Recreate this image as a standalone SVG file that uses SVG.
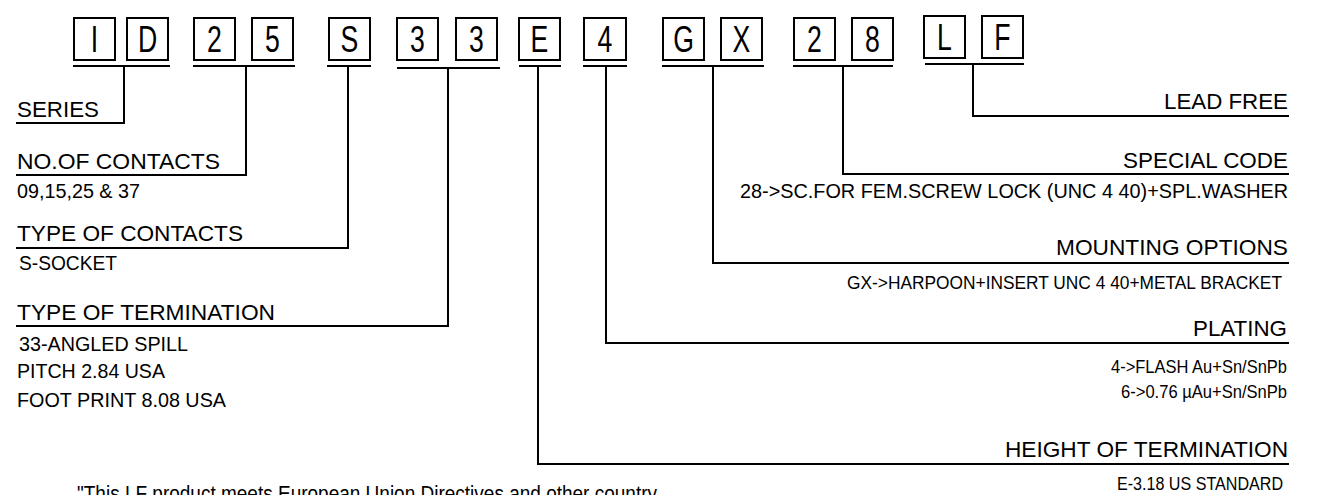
<svg xmlns="http://www.w3.org/2000/svg" width="1319" height="495" viewBox="0 0 1319 495">
<style>
  .box rect { fill: #fff; stroke: #000; stroke-width: 2; }
  .box text { font-family: "Liberation Sans", Arial, sans-serif; font-size: 37px; fill: #000; text-anchor: middle; }
  .lbl { font-family: "Liberation Sans", Arial, sans-serif; font-size: 22px; fill: #000; }
  .sub { font-family: "Liberation Sans", Arial, sans-serif; font-size: 19.5px; fill: #000; }
  .subs { font-family: "Liberation Sans", Arial, sans-serif; font-size: 18px; fill: #000; }
  #connectors path { fill: none; stroke: #000; stroke-width: 2; }
</style>
<rect width="1319" height="495" fill="#fff"/>

<g id="box-I" class="box"><rect x="74" y="18" width="41" height="42"/><text transform="translate(94.5 52) scale(0.72 1)">I</text></g>
<g id="box-D" class="box"><rect x="127" y="18" width="41" height="42"/><text transform="translate(147.5 52) scale(0.72 1)">D</text></g>
<g id="box-2a" class="box"><rect x="194" y="18" width="41" height="42"/><text transform="translate(214.5 52) scale(0.72 1)">2</text></g>
<g id="box-5" class="box"><rect x="252" y="18" width="41" height="42"/><text transform="translate(272.5 52) scale(0.72 1)">5</text></g>
<g id="box-S" class="box"><rect x="329" y="18" width="41" height="42"/><text transform="translate(349.5 52) scale(0.72 1)">S</text></g>
<g id="box-3a" class="box"><rect x="397" y="18" width="41" height="42"/><text transform="translate(417.5 52) scale(0.72 1)">3</text></g>
<g id="box-3b" class="box"><rect x="456" y="18" width="41" height="42"/><text transform="translate(476.5 52) scale(0.72 1)">3</text></g>
<g id="box-E" class="box"><rect x="519" y="18" width="41" height="42"/><text transform="translate(539.5 52) scale(0.72 1)">E</text></g>
<g id="box-4" class="box"><rect x="584" y="18" width="42" height="42"/><text transform="translate(605 52) scale(0.72 1)">4</text></g>
<g id="box-G" class="box"><rect x="663" y="18" width="41" height="42"/><text transform="translate(683.5 52) scale(0.72 1)">G</text></g>
<g id="box-X" class="box"><rect x="721" y="18" width="41" height="42"/><text transform="translate(741.5 52) scale(0.72 1)">X</text></g>
<g id="box-2b" class="box"><rect x="794" y="18" width="41" height="42"/><text transform="translate(814.5 52) scale(0.72 1)">2</text></g>
<g id="box-8" class="box"><rect x="852" y="18" width="41" height="42"/><text transform="translate(872.5 52) scale(0.72 1)">8</text></g>
<g id="box-L" class="box"><rect x="924" y="16" width="41" height="42"/><text transform="translate(944.5 50) scale(0.72 1)">L</text></g>
<g id="box-F" class="box"><rect x="982" y="16" width="41" height="42"/><text transform="translate(1002.5 50) scale(0.72 1)">F</text></g>

<g id="connectors">
  <path d="M73 66H170 M124 66V123H16"/>
  <path d="M193 66H295 M246 66V175H16"/>
  <path d="M327 66H371 M348 66V248H16"/>
  <path d="M397 68H500 M448 68V326H16"/>
  <path d="M519 66H561 M538 66V464H1289"/>
  <path d="M583 66H627 M606 66V343H1289"/>
  <path d="M662 66H764 M713 66V263H1289"/>
  <path d="M793 66H893 M843 66V174H1289"/>
  <path d="M925 64H1024 M973 64V116H1289"/>
</g>

<g id="label-series"><text class="lbl" x="17" y="117" textLength="82" lengthAdjust="spacingAndGlyphs">SERIES</text></g>
<g id="label-contacts">
  <text class="lbl" x="17" y="169" textLength="203" lengthAdjust="spacingAndGlyphs">NO.OF CONTACTS</text>
  <text class="sub" x="17" y="198" textLength="123" lengthAdjust="spacingAndGlyphs">09,15,25 &amp; 37</text>
</g>
<g id="label-type-contacts">
  <text class="lbl" x="17" y="241" textLength="226" lengthAdjust="spacingAndGlyphs">TYPE OF CONTACTS</text>
  <text class="sub" x="19" y="270" textLength="98" lengthAdjust="spacingAndGlyphs">S-SOCKET</text>
</g>
<g id="label-termination">
  <text class="lbl" x="17" y="320" textLength="258" lengthAdjust="spacingAndGlyphs">TYPE OF TERMINATION</text>
  <text class="sub" x="19" y="351" textLength="169" lengthAdjust="spacingAndGlyphs">33-ANGLED SPILL</text>
  <text class="sub" x="17" y="378" textLength="148" lengthAdjust="spacingAndGlyphs">PITCH 2.84 USA</text>
  <text class="sub" x="17" y="407" textLength="209" lengthAdjust="spacingAndGlyphs">FOOT PRINT 8.08 USA</text>
</g>
<g id="label-lead-free"><text class="lbl" x="1164" y="109" textLength="124" lengthAdjust="spacingAndGlyphs">LEAD FREE</text></g>
<g id="label-special">
  <text class="lbl" x="1123" y="168" textLength="165" lengthAdjust="spacingAndGlyphs">SPECIAL CODE</text>
  <text class="sub" x="740" y="198" textLength="548" lengthAdjust="spacingAndGlyphs">28-&gt;SC.FOR FEM.SCREW LOCK (UNC 4 40)+SPL.WASHER</text>
</g>
<g id="label-mounting">
  <text class="lbl" x="1056" y="255" textLength="232" lengthAdjust="spacingAndGlyphs">MOUNTING OPTIONS</text>
  <text class="subs" x="847" y="289" textLength="435" lengthAdjust="spacingAndGlyphs">GX-&gt;HARPOON+INSERT UNC 4 40+METAL BRACKET</text>
</g>
<g id="label-plating">
  <text class="lbl" x="1193" y="336" textLength="94" lengthAdjust="spacingAndGlyphs">PLATING</text>
  <text class="subs" x="1111" y="373" textLength="176" lengthAdjust="spacingAndGlyphs">4-&gt;FLASH Au+Sn/SnPb</text>
  <text class="subs" x="1121" y="398" textLength="166" lengthAdjust="spacingAndGlyphs">6-&gt;0.76 µAu+Sn/SnPb</text>
</g>
<g id="label-height">
  <text class="lbl" x="1005" y="457" textLength="283" lengthAdjust="spacingAndGlyphs">HEIGHT OF TERMINATION</text>
  <text class="subs" x="1117" y="490" textLength="166" lengthAdjust="spacingAndGlyphs">E-3.18 US STANDARD</text>
</g>
<g id="note"><text class="lbl" x="77" y="501" textLength="580" lengthAdjust="spacingAndGlyphs">"This LF product meets European Union Directives and other country</text></g>
</svg>
